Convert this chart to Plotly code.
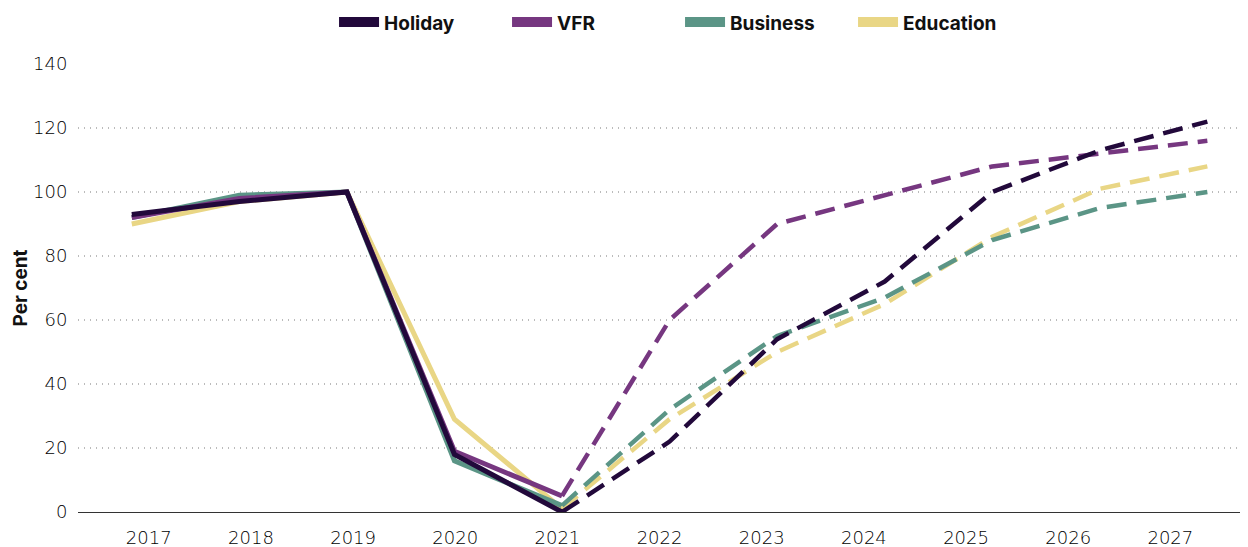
import plotly.graph_objects as go

years = ["2017", "2018", "2019", "2020", "2021", "2022", "2023", "2024", "2025", "2026", "2027"]
series_names = ["Holiday", "VFR", "Business", "Education"]
colors = {"Holiday": "#22093b", "VFR": "#763780", "Business": "#5b9586", "Education": "#e9d685"}

# actual values 2017-2021
holiday_actual = [93, 97, 100, 18, 0]
vfr_actual = [92, 98, 100, 19, 5]
business_actual = [92, 99, 100, 16, 2]
education_actual = [90, 97, 100, 29, 1]

# forecast values 2021-2027
holiday_forecast = [0, 22, 54, 72, 100, 113, 122]
vfr_forecast = [5, 60, 90, 99, 108, 112, 116]
business_forecast = [2, 32, 55, 67, 85, 95, 100]
education_forecast = [1, 29, 50, 65, 86, 101, 108]

y_ticks = [0, 20, 40, 60, 80, 100, 120, 140]

actual = {"Holiday": holiday_actual, "VFR": vfr_actual, "Business": business_actual, "Education": education_actual}
forecast = {"Holiday": holiday_forecast, "VFR": vfr_forecast, "Business": business_forecast, "Education": education_forecast}

idx = list(range(len(years)))
x_actual = idx[:5]
x_forecast = idx[4:]

fig = go.Figure()
draw_order = ["Education", "Business", "VFR", "Holiday"]
for name in draw_order:
    fig.add_trace(go.Scatter(x=x_actual, y=actual[name], mode="lines", showlegend=False,
                             line=dict(color=colors[name], width=5)))
for name in draw_order:
    fig.add_trace(go.Scatter(x=x_forecast, y=forecast[name], mode="lines", showlegend=False,
                             line=dict(color=colors[name], width=4.5, dash="20px,10px")))
for name in series_names:
    fig.add_trace(go.Scatter(x=[None], y=[None], mode="lines", name=name,
                             line=dict(color=colors[name], width=14)))

# tick label positions (labels sit on a slightly different spacing than the points)
tickvals = [0.158 + i * 0.9498 for i in idx]

tick_font = dict(family="DejaVu Sans", size=18, color="#000000", weight=300)

fig.update_layout(
    width=1240, height=539,
    margin=dict(l=70, r=3, t=56, b=35, autoexpand=False),
    plot_bgcolor="white", paper_bgcolor="white",
    font=dict(family="DejaVu Sans", color="#333333", size=16),
    legend=dict(orientation="h", x=0.2194, xanchor="left", y=1.1356, yanchor="top",
                font=dict(family="Inter", size=19, color="#111111", weight=700),
                entrywidth=118, entrywidthmode="pixels", itemwidth=40, traceorder="normal"),
    xaxis=dict(range=[-0.5, 10.35], tickvals=tickvals, ticktext=years, showgrid=False,
               zeroline=False, showline=False, ticks="outside", ticklen=9, tickcolor="white",
               tickfont=tick_font, automargin=False),
    yaxis=dict(range=[0, 140], tickvals=y_ticks, showgrid=True, gridcolor="#bbbbbb",
               griddash="1px,5px", gridwidth=1.5, zeroline=True, zerolinecolor="#333333", zerolinewidth=1,
               ticks="outside", ticklen=6, tickcolor="rgba(0,0,0,0)",
               tickfont=tick_font, automargin=False,
               title=dict(text="Per cent", font=dict(family="Inter", size=19, color="#111111", weight=700),
                          standoff=0)),
)
fig.write_html("out.html")
